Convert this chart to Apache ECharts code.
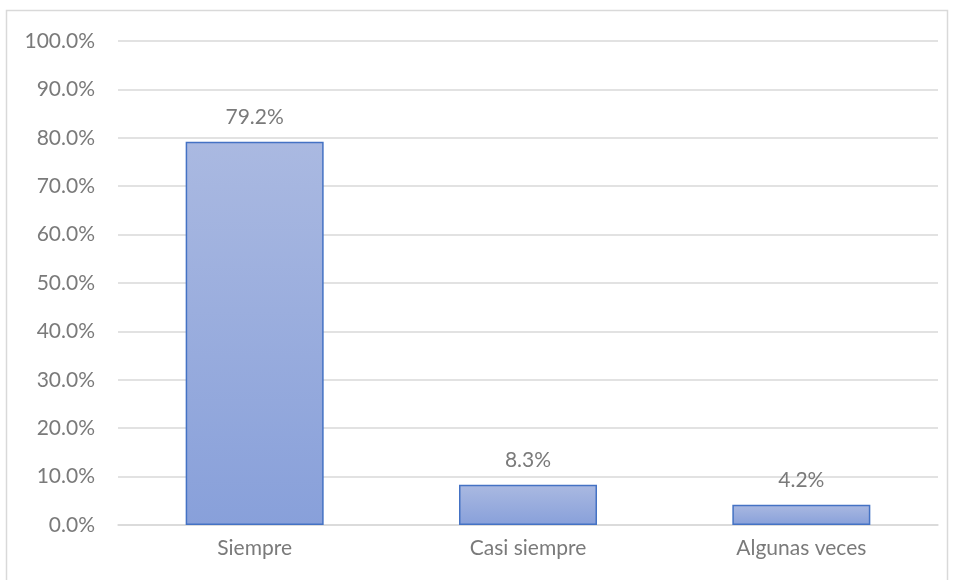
<!DOCTYPE html>
<html>
<head>
<meta charset="utf-8">
<script src="https://cdn.jsdelivr.net/npm/echarts@6/dist/echarts.min.js"></script>
<style>html,body{margin:0;padding:0;background:#fff;}#c{width:955px;height:580px;}</style>
</head>
<body>
<div id="c"></div>
<script>
const categories = ['Siempre', 'Casi siempre', 'Algunas veces'];
const values = [79.2, 8.3, 4.2];
const yTicks = [0, 10, 20, 30, 40, 50, 60, 70, 80, 90, 100];

const chart = echarts.init(document.getElementById('c'));
const font = 'Lato, "Open Sans", sans-serif';
chart.setOption({
  animation: false,
  graphic: [{
    type: 'rect',
    shape: { x: 6.5, y: 10.5, width: 941, height: 600 },
    style: { fill: 'none', stroke: '#d9d9d9', lineWidth: 1.5 },
    silent: true
  }],
  grid: { left: 118, right: 17, top: 41, bottom: 55, containLabel: false },
  xAxis: {
    type: 'category',
    data: categories,
    axisLine: { show: true, lineStyle: { color: '#d9d9d9', width: 1.5 } },
    axisTick: { show: false },
    axisLabel: { color: '#7a7a7a', fontSize: 21, fontFamily: font, margin: 13 }
  },
  yAxis: {
    type: 'value',
    min: yTicks[0],
    max: yTicks[yTicks.length - 1],
    interval: 10,
    axisLine: { show: false },
    axisTick: { show: false },
    splitLine: { lineStyle: { color: '#d9d9d9', width: 1.5 } },
    axisLabel: { color: '#7a7a7a', fontSize: 21, fontFamily: font, margin: 23,
      formatter: v => v.toFixed(1) + '%' }
  },
  series: [{
    type: 'bar',
    data: values,
    barWidth: 138,
    itemStyle: {
      color: new echarts.graphic.LinearGradient(0, 0, 0, 1, [
        { offset: 0, color: '#aab9e1' },
        { offset: 1, color: '#88a0da' }
      ]),
      borderColor: '#4472c4',
      borderWidth: 1.5
    },
    label: {
      show: true, position: 'top', distance: 14,
      color: '#7a7a7a', fontSize: 21, fontFamily: font,
      formatter: p => p.value.toFixed(1) + '%'
    }
  }]
});
</script>
</body>
</html>
